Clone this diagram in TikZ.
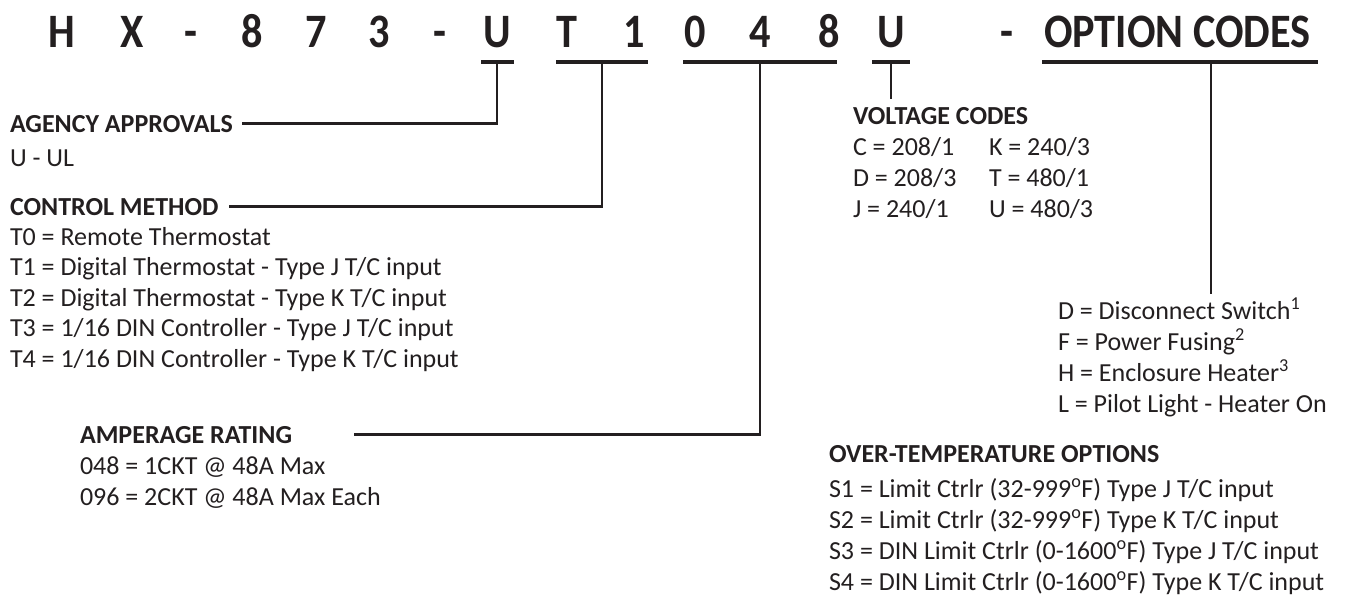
\documentclass[tikz,border=0pt]{standalone}
\usepackage{fontspec}
\usepackage{graphicx}
\setmainfont{Carlito}
\definecolor{ink}{RGB}{35,31,32}
\newcommand{\codechar}[1]{\scalebox{0.88}[1]{#1}}
\begin{document}
\begin{tikzpicture}[x=1pt,y=-1pt,
  every node/.style={inner sep=0pt, outer sep=0pt, text=ink},
  code/.style={anchor=base, font=\fontsize{48}{58}\selectfont\bfseries},
  head/.style={anchor=base west, font=\fontsize{26}{31}\selectfont\bfseries},
  body/.style={anchor=base west, font=\fontsize{26}{31}\selectfont},
  barnode/.style={fill=ink, minimum height=4.5pt},
  lead/.style={line width=2.4pt, draw=ink}]
\useasboundingbox (0,0) rectangle (1351,597);

% top code row
\node[code] (cH)  at (62,47)  {\codechar{H}};
\node[code] (cX)  at (132,47) {\codechar{X}};
\node[code] (cd1) at (191,47) {\codechar{-}};
\node[code] (c8)  at (252,47) {\codechar{8}};
\node[code] (c7)  at (316,47) {\codechar{7}};
\node[code] (c3)  at (379,47) {\codechar{3}};
\node[code] (cd2) at (440,47) {\codechar{-}};
\node[code] (cU)  at (497,47) {\codechar{U}};
\node[code] (cT)  at (567,47) {\codechar{T}};
\node[code] (c1)  at (634,47) {\codechar{1}};
\node[code] (c0)  at (695,47) {\codechar{0}};
\node[code] (c4)  at (760,47) {\codechar{4}};
\node[code] (c8b) at (829,47) {\codechar{8}};
\node[code] (cU2) at (891,47) {\codechar{U}};
\node[code] (cd3) at (1007,47) {\codechar{-}};
\node[code, anchor=base west] (cOpt) at (1044,47) {\codechar{OPTION CODES}};

% underline bars
\node[barnode, minimum width=33pt]  (bU)   at (497,62)  {};
\node[barnode, minimum width=92pt]  (bT)   at (602,62)  {};
\node[barnode, minimum width=154pt] (bA)   at (760,62)  {};
\node[barnode, minimum width=38pt]  (bV)   at (891,62)  {};
\node[barnode, minimum width=276pt] (bO)   at (1180,62) {};

% left column
\node[head] (agency) at (10,132) {AGENCY APPROVALS};
\node[body] (ul)     at (10,166) {U - UL};

\node[head] (control) at (10,215) {CONTROL METHOD};
\node[body] (t0) at (10,245) {T0 = Remote Thermostat};
\node[body] (t1) at (10,275.5) {T1 = Digital Thermostat - Type J T/C input};
\node[body] (t2) at (10,306) {T2 = Digital Thermostat - Type K T/C input};
\node[body] (t3) at (10,336.5) {T3 = 1/16 DIN Controller - Type J T/C input};
\node[body] (t4) at (10,367) {T4 = 1/16 DIN Controller - Type K T/C input};

\node[head] (amp) at (80,443) {AMPERAGE RATING};
\node[body] (a1)  at (80,474) {048 = 1CKT @ 48A Max};
\node[body] (a2)  at (80,505) {096 = 2CKT @ 48A Max Each};

% voltage codes
\node[head] (volt) at (853,124) {VOLTAGE CODES};
\node[body] (vC) at (853,155) {C = 208/1};
\node[body] (vD) at (853,186) {D = 208/3};
\node[body] (vJ) at (853,217) {J = 240/1};
\node[body] (vK) at (989,155) {K = 240/3};
\node[body] (vT) at (989,186) {T = 480/1};
\node[body] (vU) at (989,217) {U = 480/3};

% option codes
\node[body] (oD) at (1058,319) {D = Disconnect Switch\textsuperscript{1}};
\node[body] (oF) at (1058,350) {F = Power Fusing\textsuperscript{2}};
\node[body] (oH) at (1058,381) {H = Enclosure Heater\textsuperscript{3}};
\node[body] (oL) at (1058,412) {L = Pilot Light - Heater On};

\node[head] (over) at (829,462) {OVER-TEMPERATURE OPTIONS};
\node[body] (s1) at (829,497) {S1 = Limit Ctrlr (32-999\textsuperscript{o}F) Type J T/C input};
\node[body] (s2) at (829,528) {S2 = Limit Ctrlr (32-999\textsuperscript{o}F) Type K T/C input};
\node[body] (s3) at (829,559) {S3 = DIN Limit Ctrlr (0-1600\textsuperscript{o}F) Type J T/C input};
\node[body] (s4) at (829,590) {S4 = DIN Limit Ctrlr (0-1600\textsuperscript{o}F) Type K T/C input};

% connectors
\draw[lead] (bU.south) |- ([xshift=9pt]agency.east);
\draw[lead] (bT.south) |- ([xshift=10pt]control.east);
\draw[lead] (bA.south) |- ([xshift=62pt]amp.east);
\coordinate (vEnd) at (891,99);
\draw[lead] (bV.south) -- (vEnd);
\coordinate (oEnd) at (1211,294);
\draw[lead] (bO.south -| oEnd) -- (oEnd);
\end{tikzpicture}
\end{document}
